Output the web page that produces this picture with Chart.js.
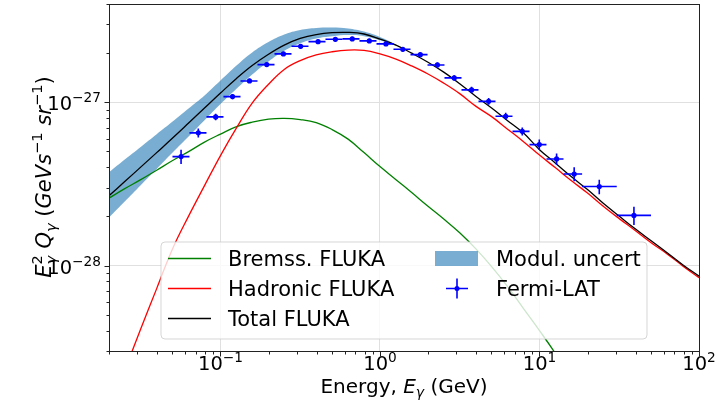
<!DOCTYPE html>
<html>
<head>
<meta charset="utf-8">
<script src="https://cdn.jsdelivr.net/npm/chart.js@4.4.1/dist/chart.umd.min.js"></script>
<style>
html,body{margin:0;padding:0;background:#ffffff;}
#wrap{width:718px;height:408px;position:relative;}
</style>
</head>
<body>
<div id="wrap"><canvas id="c" width="718" height="408"></canvas></div>
<script>
// ---------------- data ----------------
const energyGrid = [0.02,0.0251,0.0316,0.0398,0.0501,0.0631,0.0794,0.1,0.126,0.158,0.2,0.251,0.316,0.398,0.501,0.631,0.794,1,1.26,1.58,2,2.51,3.16,3.98,5.01,6.31,7.94,10,12.6,15.8,20,25.1,31.6,39.8,50.1,63.1,79.4,100];

const bremssFluka = [2.59e-28,2.96e-28,3.36e-28,3.84e-28,4.40e-28,4.99e-28,5.71e-28,6.39e-28,7.10e-28,7.56e-28,7.89e-28,7.98e-28,7.84e-28,7.51e-28,6.81e-28,5.95e-28,4.92e-28,4.04e-28,3.36e-28,2.80e-28,2.31e-28,1.93e-28,1.59e-28,1.27e-28,9.86e-29,7.44e-29,5.45e-29,4.00e-29,2.89e-29,2.03e-29,null,null,null,null,null,null,null,null];

const hadronicFluka = [null,2.28e-29,4.09e-29,7.23e-29,1.27e-28,2.01e-28,3.09e-28,4.72e-28,6.97e-28,9.89e-28,1.29e-27,1.59e-27,1.80e-27,1.95e-27,2.04e-27,2.09e-27,2.08e-27,1.98e-27,1.84e-27,1.67e-27,1.49e-27,1.31e-27,1.13e-27,9.48e-28,8.17e-28,6.85e-28,5.74e-28,4.75e-28,3.97e-28,3.32e-28,2.78e-28,2.31e-28,1.94e-28,1.64e-28,1.38e-28,1.18e-28,9.93e-29,8.44e-29];

const totalFluka = [2.68e-28,3.27e-28,4.01e-28,4.92e-28,6.04e-28,7.46e-28,9.22e-28,1.14e-27,1.40e-27,1.68e-27,1.97e-27,2.24e-27,2.46e-27,2.60e-27,2.67e-27,2.68e-27,2.62e-27,2.44e-27,2.24e-27,2.00e-27,1.76e-27,1.53e-27,1.30e-27,1.09e-27,9.22e-28,7.72e-28,6.48e-28,5.13e-28,4.24e-28,3.51e-28,2.92e-28,2.41e-28,2.01e-28,1.68e-28,1.42e-28,1.20e-28,1.01e-28,8.62e-29];

const modulUpper = [3.73e-28,4.46e-28,5.33e-28,6.38e-28,7.62e-28,9.15e-28,1.10e-27,1.36e-27,1.68e-27,2.02e-27,2.34e-27,2.60e-27,2.77e-27,2.85e-27,2.87e-27,2.83e-27,2.71e-27,2.51e-27,2.26e-27,null,null,null,null,null,null,null,null,null,null,null,null,null,null,null,null,null,null,null];
const modulLower = [1.97e-28,2.47e-28,3.11e-28,3.91e-28,4.92e-28,6.17e-28,7.76e-28,9.75e-28,1.21e-27,1.48e-27,1.78e-27,2.07e-27,2.30e-27,2.46e-27,2.54e-27,2.58e-27,2.54e-27,2.40e-27,2.22e-27,null,null,null,null,null,null,null,null,null,null,null,null,null,null,null,null,null,null,null];

const fermiEnergy = [0.0566,0.0726,0.0933,0.119,0.152,0.195,0.248,0.318,0.409,0.525,0.670,0.857,1.09,1.39,1.79,2.29,2.92,3.75,4.80,6.14,7.80,9.97,12.8,16.5,23.7,39.1];
const fermiEdges = [0.050,0.0639,0.0817,0.1044,0.1335,0.1706,0.2181,0.2787,0.3562,0.4553,0.5819,0.7437,0.9508,1.215,1.553,1.986,2.537,3.243,4.145,5.298,6.772,8.657,11.06,14.14,18.5,30.5,50.0];
const fermiFlux = [4.65e-28,6.50e-28,8.14e-28,1.084e-27,1.352e-27,1.702e-27,1.979e-27,2.203e-27,2.353e-27,2.431e-27,2.445e-27,2.377e-27,2.279e-27,2.112e-27,1.959e-27,1.694e-27,1.411e-27,1.191e-27,1.014e-27,8.21e-28,6.64e-28,5.51e-28,4.50e-28,3.64e-28,3.05e-28,2.03e-28];
const fermiErr = [4.65e-29,4.2e-29,3.8e-29,4.1e-29,4.1e-29,5.1e-29,5.9e-29,6.6e-29,7.1e-29,7.3e-29,7.3e-29,7.1e-29,6.8e-29,6.3e-29,5.9e-29,5.9e-29,5.6e-29,5.4e-29,4.8e-29,4.1e-29,3.7e-29,4.1e-29,3.6e-29,3.6e-29,3.1e-29,2.6e-29];

const xTickValues = [0.1, 1, 10, 100];
const xTickExponents = ['\u22121', '0', '1', '2'];
const yTickValues = [1e-28, 1e-27];
const yTickExponents = ['\u221228', '\u221227'];

const seriesNames = ['Bremss. FLUKA', 'Hadronic FLUKA', 'Total FLUKA', 'Modul. uncert', 'Fermi-LAT'];
// ------------------------------------------------------------------------

const FONT = '"DejaVu Sans", sans-serif';
const BAND = 'rgba(31,119,180,0.6)';

function pts(xs, ys) {
  const out = [];
  xs.forEach((x, i) => { if (ys[i] !== null && ys[i] !== undefined) out.push({x: x, y: ys[i]}); });
  return out;
}

function measureParts(ctx, parts) {
  let total = 0;
  const widths = parts.map(p => {
    let w;
    if (p.stack) {
      w = Math.max(...p.stack.map(s => { ctx.font = s.font; return ctx.measureText(s.t).width; }));
    } else { ctx.font = p.font; w = ctx.measureText(p.t).width; }
    total += w; return w;
  });
  return {total, widths};
}

function drawRich(ctx, parts, x0, baseY, align) {
  const m = measureParts(ctx, parts);
  let x = align === 'right' ? x0 - m.total : (align === 'left' ? x0 : x0 - m.total / 2);
  ctx.textAlign = 'left'; ctx.textBaseline = 'alphabetic';
  parts.forEach((p, i) => {
    if (p.stack) {
      p.stack.forEach(s => { ctx.font = s.font; ctx.fillText(s.t, x, baseY + (s.dy || 0)); });
    } else {
      ctx.font = p.font; ctx.fillText(p.t, x, baseY + (p.dy || 0));
    }
    x += m.widths[i];
  });
}

const deco = {
  id: 'deco',
  afterDatasetsDraw(chart) {
    const {ctx, scales: {x, y}} = chart;
    ctx.save();
    ctx.strokeStyle = '#0000ff';
    ctx.lineWidth = 1.6;
    fermiEnergy.forEach((e, i) => {
      const px = x.getPixelForValue(e), py = y.getPixelForValue(fermiFlux[i]);
      const x0 = x.getPixelForValue(fermiEdges[i]), x1 = x.getPixelForValue(fermiEdges[i + 1]);
      const y0 = y.getPixelForValue(fermiFlux[i] - fermiErr[i]), y1 = y.getPixelForValue(fermiFlux[i] + fermiErr[i]);
      ctx.beginPath();
      ctx.moveTo(x0, py); ctx.lineTo(x1, py);
      ctx.moveTo(px, y0); ctx.lineTo(px, y1);
      ctx.stroke();
    });
    ctx.restore();
  },
  afterDraw(chart) {
    const {ctx, chartArea: a, scales: {x, y}} = chart;
    ctx.save();
    // spines
    ctx.strokeStyle = '#222';
    ctx.lineWidth = 1;
    ctx.strokeRect(Math.round(a.left) + 0.5, Math.round(a.top) + 0.5, Math.round(a.right - a.left), Math.round(a.bottom - a.top));
    // ticks
    ctx.beginPath();
    const xb = Math.round(a.bottom) + 0.5;
    for (let d = -2; d <= 2; d++) {
      for (let m = 1; m <= 9; m++) {
        const v = m * Math.pow(10, d);
        if (v < 0.0199 || v > 100.01) continue;
        const px = Math.round(x.getPixelForValue(v)) + 0.5;
        const len = m === 1 ? 5 : 3;
        ctx.moveTo(px, xb); ctx.lineTo(px, xb + len);
      }
    }
    const yl = Math.round(a.left) + 0.5;
    for (let d = -29; d <= -27; d++) {
      for (let m = 1; m <= 9; m++) {
        const v = m * Math.pow(10, d);
        if (v < 2.99e-29 || v > 4.01e-27) continue;
        const py = Math.round(y.getPixelForValue(v)) + 0.5;
        const len = m === 1 ? 5 : 3;
        ctx.moveTo(yl, py); ctx.lineTo(yl - len, py);
      }
    }
    ctx.stroke();

    ctx.fillStyle = '#000';
    const N = '19.5px ' + FONT, I = 'italic 20px ' + FONT, N20 = '20px ' + FONT, Ns = '13.7px ' + FONT, Is = 'italic 14px ' + FONT;
    const YI = 'italic 21px ' + FONT, YN = '21px ' + FONT, YIs = 'italic 14.7px ' + FONT, YNs = '14.7px ' + FONT;

    // tick labels
    xTickValues.forEach((v, i) => {
      drawRich(ctx, [{t: '10', font: N}, {t: xTickExponents[i], font: Ns, dy: -8}], x.getPixelForValue(v), 370, 'center');
    });
    yTickValues.forEach((v, i) => {
      drawRich(ctx, [{t: '10', font: N}, {t: yTickExponents[i], font: Ns, dy: -8}], 101, y.getPixelForValue(v) + 8, 'right');
    });

    // axis titles
    drawRich(ctx, [
      {t: 'Energy, ', font: N20},
      {t: 'E', font: I},
      {t: '\u03B3', font: Is, dy: 4},
      {t: ' (GeV)', font: N20}
    ], (a.left + a.right) / 2, 393, 'center');

    ctx.save();
    ctx.translate(51, 177);
    ctx.rotate(-Math.PI / 2);
    drawRich(ctx, [
      {t: 'E', font: YI},
      {stack: [{t: '\u03B3', font: YIs, dy: 5}, {t: '2', font: YNs, dy: -9}]},
      {t: ' Q', font: YI},
      {t: '\u03B3', font: YIs, dy: 5},
      {t: ' (', font: YN},
      {t: 'GeV', font: YI},
      {t: 's', font: YI},
      {t: '\u22121', font: YNs, dy: -9},
      {t: ' sr', font: YI},
      {t: '\u22121', font: YNs, dy: -9},
      {t: ')', font: YN}
    ], 0, 0, 'center');
    ctx.restore();

    // legend
    const L = {x: 161, y: 242, w: 486, h: 97, r: 4};
    ctx.beginPath();
    ctx.moveTo(L.x + L.r, L.y);
    ctx.arcTo(L.x + L.w, L.y, L.x + L.w, L.y + L.h, L.r);
    ctx.arcTo(L.x + L.w, L.y + L.h, L.x, L.y + L.h, L.r);
    ctx.arcTo(L.x, L.y + L.h, L.x, L.y, L.r);
    ctx.arcTo(L.x, L.y, L.x + L.w, L.y, L.r);
    ctx.closePath();
    ctx.fillStyle = 'rgba(255,255,255,0.8)';
    ctx.fill();
    ctx.strokeStyle = 'rgba(204,204,204,0.8)';
    ctx.lineWidth = 1;
    ctx.stroke();

    const rows = [258.5, 288.5, 318.5];
    const lineCols = ['#008000', '#ff0000', '#000000'];
    ctx.lineWidth = 1.5;
    for (let i = 0; i < 3; i++) {
      ctx.strokeStyle = lineCols[i];
      ctx.beginPath(); ctx.moveTo(168, rows[i]); ctx.lineTo(211, rows[i]); ctx.stroke();
    }
    ctx.fillStyle = BAND;
    ctx.fillRect(435, 251, 43, 15);
    ctx.strokeStyle = '#0000ff'; ctx.lineWidth = 1.6;
    ctx.beginPath();
    ctx.moveTo(446, rows[1]); ctx.lineTo(468, rows[1]);
    ctx.moveTo(457, rows[1] - 10); ctx.lineTo(457, rows[1] + 10);
    ctx.stroke();
    ctx.fillStyle = '#0000ff';
    ctx.beginPath(); ctx.arc(457, rows[1], 2.5, 0, Math.PI * 2); ctx.fill();

    ctx.fillStyle = '#000';
    ctx.font = '21px ' + FONT;
    ctx.textAlign = 'left'; ctx.textBaseline = 'alphabetic';
    ctx.fillText(seriesNames[0], 228, rows[0] + 7.5);
    ctx.fillText(seriesNames[1], 228, rows[1] + 7.5);
    ctx.fillText(seriesNames[2], 228, rows[2] + 7.5);
    ctx.fillText(seriesNames[3], 496, rows[0] + 7.5);
    ctx.fillText(seriesNames[4], 496, rows[1] + 7.5);
    ctx.restore();
  }
};

const lineBase = {type: 'line', fill: false, pointRadius: 0, borderWidth: 1.3, tension: 0.4};

new Chart(document.getElementById('c'), {
  data: {
    datasets: [
      {type: 'scatter', label: seriesNames[4], data: pts(fermiEnergy, fermiFlux), pointRadius: 2.6, pointBackgroundColor: '#0000ff', pointBorderWidth: 0, showLine: false, order: 0},
      Object.assign({}, lineBase, {label: seriesNames[2], data: pts(energyGrid, totalFluka), borderColor: '#000000', order: 1}),
      Object.assign({}, lineBase, {label: seriesNames[1], data: pts(energyGrid, hadronicFluka), borderColor: '#ff0000', order: 2}),
      Object.assign({}, lineBase, {label: seriesNames[0], data: pts(energyGrid, bremssFluka), borderColor: '#008000', order: 3}),
      Object.assign({}, lineBase, {label: 'band low', data: pts(energyGrid, modulLower), borderWidth: 0, borderColor: 'rgba(0,0,0,0)', order: 5}),
      Object.assign({}, lineBase, {label: seriesNames[3], data: pts(energyGrid, modulUpper), borderWidth: 0, borderColor: 'rgba(0,0,0,0)', backgroundColor: BAND, fill: {target: 4}, order: 4})
    ]
  },
  options: {
    responsive: false,
    animation: false,
    devicePixelRatio: 1,
    layout: {padding: {left: 0, right: 19, top: 4, bottom: 0}},
    plugins: {legend: {display: false}, tooltip: {enabled: false}, title: {display: false}},
    scales: {
      x: {
        type: 'logarithmic', min: 0.02, max: 100,
        afterBuildTicks: s => { s.ticks = xTickValues.map(v => ({value: v})); },
        afterFit: s => { s.height = 57; s.paddingLeft = 0; s.paddingRight = 0; },
        ticks: {display: false},
        grid: {color: '#e0e0e0', lineWidth: 1, drawTicks: false},
        border: {display: false}
      },
      y: {
        type: 'logarithmic', min: 3e-29, max: 4e-27,
        afterBuildTicks: s => { s.ticks = yTickValues.map(v => ({value: v})); },
        afterFit: s => { s.width = 109; s.paddingTop = 0; s.paddingBottom = 0; },
        ticks: {display: false},
        grid: {color: '#e0e0e0', lineWidth: 1, drawTicks: false},
        border: {display: false}
      }
    }
  },
  plugins: [deco]
});
</script>
</body>
</html>
